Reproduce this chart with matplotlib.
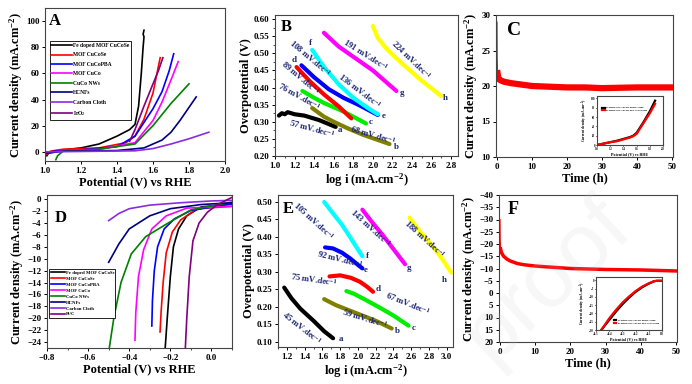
import numpy as np
import matplotlib
matplotlib.use('Agg')
import matplotlib.pyplot as plt

plt.rcParams['font.family'] = ['Liberation Serif', 'DejaVu Serif']
plt.rcParams['font.weight'] = 'bold'
plt.rcParams['axes.labelweight'] = 'bold'
plt.rcParams['mathtext.fontset'] = 'custom'
plt.rcParams['mathtext.rm'] = 'Liberation Serif:bold'
plt.rcParams['mathtext.it'] = 'Liberation Serif:bold'
plt.rcParams['mathtext.bf'] = 'Liberation Serif:bold'
plt.rcParams['mathtext.default'] = 'rm'

# ---------------- data ----------------
# A: OER polarisation curves (potential V, current mA/cm2)
oer_names = ['Fe doped MOF CuCoSe', 'MOF CuCoSe', 'MOF CuCoPBA', 'MOF CuCo',
             'CuCo NWs', 'HCNFs', 'Carbon Cloth', 'IrO$_2$']
oer_colors = ['black', 'red', 'blue', 'magenta', 'green', 'navy', '#8a2be2', 'purple']
oer_x = [
    [1.01, 1.02, 1.05, 1.1, 1.2, 1.3, 1.4, 1.47, 1.5, 1.52, 1.535, 1.545, 1.55, 1.545, 1.55],
    [1.01, 1.03, 1.1, 1.3, 1.45, 1.5, 1.55, 1.6, 1.625, 1.64],
    [1.01, 1.05, 1.2, 1.4, 1.5, 1.6, 1.65, 1.69, 1.715],
    [1.02, 1.1, 1.3, 1.5, 1.6, 1.65, 1.7, 1.74],
    [1.06, 1.07, 1.1, 1.3, 1.5, 1.6, 1.7, 1.8],
    [1.01, 1.1, 1.4, 1.55, 1.65, 1.7, 1.75, 1.8, 1.84],
    [1.01, 1.2, 1.5, 1.6, 1.7, 1.8, 1.91],
    [1.47, 1.5, 1.55, 1.6, 1.63, 1.655],
]
oer_y = [
    [-3, -1, 0.5, 1.5, 3, 6, 12, 17, 21, 35, 60, 80, 88, 90, 93],
    [-2, 0.5, 2, 3, 7, 12, 25, 45, 62, 72],
    [-1, 0.5, 1.5, 4, 12, 33, 46, 62, 75],
    [-1, 1, 2, 7, 24, 38, 55, 69],
    [-6, -3, 0.5, 2, 6, 20, 37, 52],
    [-1, 0.5, 1, 3, 9, 15, 24, 34, 42],
    [0, 0.3, 0.8, 2.5, 6, 10, 15],
    [8, 17, 35, 52, 62, 72],
]

# B: OER Tafel plots (log i, overpotential V)
tafel1_x = [
    [1.04, 1.07, 1.1, 1.13, 1.2, 1.3, 1.45, 1.62],
    [1.38, 1.5, 1.6, 1.75, 1.9, 2.05, 2.17],
    [1.28, 1.4, 1.5, 1.7, 1.93],
    [1.22, 1.35, 1.5, 1.65, 1.78],
    [1.27, 1.4, 1.55, 1.7, 1.85, 2.05],
    [1.38, 1.5, 1.65, 1.8, 1.95, 2.05],
    [1.5, 1.65, 1.8, 2.0, 2.24],
    [2.0, 2.05, 2.15, 2.3, 2.5, 2.7],
]
tafel1_y = [
    [0.318, 0.325, 0.322, 0.328, 0.322, 0.318, 0.305, 0.285],
    [0.34, 0.315, 0.30, 0.28, 0.262, 0.247, 0.235],
    [0.39, 0.37, 0.355, 0.33, 0.295],
    [0.46, 0.42, 0.38, 0.345, 0.31],
    [0.465, 0.43, 0.395, 0.37, 0.35, 0.32],
    [0.51, 0.46, 0.41, 0.37, 0.34, 0.322],
    [0.56, 0.52, 0.49, 0.45, 0.39],
    [0.58, 0.545, 0.51, 0.47, 0.42, 0.375],
]
tafel_colors = ['black', '#808000', '#00ee00', 'red', 'blue', '#00ffff', '#ff00ff', '#ffff00']
tafel1_slopes = ['57', '68', '76', '89', '108', '136', '191', '224']
tafel1_lab_xy = [(1.38, 0.28), (2.0, 0.262), (1.245, 0.373), (1.256, 0.428),
                 (1.36, 0.486), (1.87, 0.39), (1.93, 0.495), (2.39, 0.48)]
tafel1_lab_rot = [-15, -16, -29, -40, -40, -37, -32, -44]
tafel_letters = ['a', 'b', 'c', 'd', 'e', 'f', 'g', 'h']
tafel1_let_xy = [(1.64, 0.276), (2.22, 0.226), (1.96, 0.298), (1.17, 0.48),
                 (2.09, 0.317), (1.35, 0.53), (2.27, 0.384), (2.71, 0.37)]

# C: OER stability (time h, current mA/cm2)
oer_t = [0, 0.05, 0.15, 0.4, 1, 2, 4, 7, 10, 15, 20, 25, 30, 35, 40, 45, 50]
oer_j = [29, 24, 21.8, 21.0, 20.8, 20.6, 20.4, 20.2, 20.0, 19.9, 19.8, 19.8, 19.7, 19.75, 19.8, 19.8, 19.8]
oer_in_x = [1.0, 1.1, 1.2, 1.3, 1.4, 1.5, 1.55, 1.6, 1.7, 1.8, 1.88]
oer_in_before = [0, 3, 6, 9, 13, 17, 20, 26, 48, 72, 95]
oer_in_after = [0, 3, 6, 8, 12, 16, 19, 24, 46, 68, 88]

# D: HER polarisation curves
her_names = ['Fe doped MOF CuCoSe', 'MOF CuCoSe', 'MOF CuCoPBA', 'MOF CuCo',
             'CuCo NWs', 'HCNFs', 'Carbon Cloth', 'Pt/C']
her_colors = ['black', 'red', 'blue', 'magenta', 'green', 'navy', '#8a2be2', 'purple']
her_x = [
    [-0.225, -0.215, -0.2, -0.185, -0.16, -0.12, -0.05, 0.1],
    [-0.25, -0.245, -0.235, -0.22, -0.19, -0.15, -0.07, 0.1],
    [-0.29, -0.287, -0.278, -0.262, -0.23, -0.18, -0.1, 0.1],
    [-0.372, -0.368, -0.355, -0.33, -0.29, -0.22, -0.12, 0.1],
    [-0.497, -0.475, -0.44, -0.39, -0.32, -0.22, -0.1, 0.1],
    [-0.5, -0.45, -0.4, -0.3, -0.2, -0.05, 0.1],
    [-0.5, -0.45, -0.4, -0.3, -0.15, 0.0, 0.1],
    [-0.127, -0.12, -0.108, -0.09, -0.06, -0.02, 0.03, 0.1],
]
her_y = [
    [-25, -20, -13, -8, -5, -2.8, -1.3, -0.8],
    [-22.3, -19, -14, -9, -5.5, -3.5, -1.6, -1.2],
    [-21.3, -17, -12, -8, -5, -3.3, -1.9, -0.8],
    [-23.7, -19, -13, -8.5, -5, -2.8, -1.5, -1.2],
    [-25, -20, -14, -9.2, -6.3, -4.2, -1.8, -0.5],
    [-10.6, -7.5, -5, -2.8, -1.6, -0.9, -0.6],
    [-3.6, -2.4, -1.6, -1.0, -0.6, -0.3, -0.2],
    [-25, -20, -13, -7, -4, -2.2, -0.9, 0.3],
]

# E: HER Tafel plots
tafel2_x = [
    [1.17, 1.25, 1.35, 1.5, 1.62, 1.72],
    [1.62, 1.75, 1.9, 2.05, 2.2, 2.38],
    [1.87, 1.95, 2.1, 2.25, 2.4, 2.57],
    [1.68, 1.8, 1.92, 2.02, 2.1, 2.17],
    [1.63, 1.72, 1.82, 1.92, 2.0, 2.05],
    [1.62, 1.72, 1.82, 1.91, 1.98, 2.05],
    [2.05, 2.15, 2.28, 2.4, 2.53],
    [2.58, 2.7, 2.82, 2.94, 3.05],
]
tafel2_y = [
    [0.255, 0.225, 0.195, 0.16, 0.13, 0.11],
    [0.222, 0.205, 0.19, 0.175, 0.16, 0.138],
    [0.245, 0.238, 0.218, 0.197, 0.175, 0.146],
    [0.287, 0.29, 0.283, 0.272, 0.258, 0.243],
    [0.37, 0.367, 0.355, 0.337, 0.32, 0.31],
    [0.50, 0.467, 0.435, 0.40, 0.372, 0.345],
    [0.478, 0.445, 0.405, 0.365, 0.322],
    [0.455, 0.415, 0.38, 0.34, 0.298],
]
tafel2_slopes = ['45', '59', '67', '75', '92', '105', '143', '188']
tafel2_lab_xy = [(1.37, 0.14), (2.08, 0.166), (2.56, 0.208), (1.5, 0.277),
                 (1.8, 0.336), (1.5, 0.445), (2.14, 0.425), (2.75, 0.395)]
tafel2_lab_rot = [-38, -17, -22, -8, -14, -42, -42, -42]
tafel2_let_xy = [(1.78, 0.108), (2.42, 0.132), (2.61, 0.14), (2.2, 0.25),
                 (2.07, 0.304), (2.09, 0.345), (2.55, 0.312), (2.94, 0.278)]

# F: HER stability
her_t = [0, 0.05, 0.15, 0.4, 1, 2, 3, 5, 7, 10, 15, 20, 25, 30, 35, 40, 45, 50]
her_j = [-30, -22, -18, -16.5, -15, -13.8, -13, -12, -11.5, -11, -10.5, -10, -9.8, -9.6, -9.5, -9.4, -9.2, -9.0]
her_in_x = [-0.46, -0.43, -0.4, -0.35, -0.3, -0.25, -0.2, -0.15, -0.1, -0.06, -0.04, 0.0]
her_in_before = [-30, -27, -24, -19, -14.5, -10.5, -7, -4.2, -2, -0.6, -0.3, -0.3]
her_in_after = [-30, -26.5, -23, -18, -13.5, -9.8, -6.5, -3.8, -1.8, -0.5, -0.3, -0.3]

# ---------------- figure ----------------
W, H = 692, 384
fig = plt.figure(figsize=(W / 100, H / 100), dpi=100)


def px(l, t, r, b):
    return [l / W, 1 - b / H, (r - l) / W, (b - t) / H]


def style(ax, fs=6.5):
    ax.tick_params(direction='out', labelsize=fs, length=2.5, width=0.7, pad=1.5,
                   top=False, right=False)
    ax.tick_params(which='minor', direction='out', length=1.5, width=0.5,
                   top=False, right=False)
    for s in ax.spines.values():
        s.set_linewidth(0.8)
        s.set_color('#444444')
    for lab in ax.get_xticklabels() + ax.get_yticklabels():
        lab.set_fontweight('bold')


jlab = 'Current density (mA.cm$^{-2}$)'
navy_txt = '#1c2574'

# A
axA = fig.add_axes(px(45, 8, 225, 161))
for x, y, c, n in zip(oer_x, oer_y, oer_colors, oer_names):
    axA.plot(x, y, color=c, lw=1.2, label=n)
axA.set_xlim(1.0, 2.0)
axA.set_ylim(-7, 110)
axA.set_xticks([1.0, 1.2, 1.4, 1.6, 1.8, 2.0])
axA.set_yticks([0, 20, 40, 60, 80, 100])
axA.set_xlabel('Potential (V) vs RHE', fontsize=9, labelpad=1)
axA.set_ylabel(jlab, fontsize=9, labelpad=1)
axA.text(0.02, 0.97, 'A', transform=axA.transAxes, fontsize=12, fontweight='bold', va='top')
axA.legend(loc='upper left', bbox_to_anchor=(0.01, 0.8), fontsize=4.0, frameon=True,
           fancybox=False, edgecolor='black', handlelength=3.8, handletextpad=0.2,
           labelspacing=0.8, borderpad=0.3, framealpha=1).get_frame().set_linewidth(0.6)
style(axA)

# B
axB = fig.add_axes(px(275, 15, 458, 156))
for x, y, c in zip(tafel1_x, tafel1_y, tafel_colors):
    axB.plot(x, y, color=c, lw=3, solid_capstyle='round')
for s, xy, r in zip(tafel1_slopes, tafel1_lab_xy, tafel1_lab_rot):
    axB.text(xy[0], xy[1], s + ' mV.dec$^{-1}$', rotation=r, fontsize=6.2, color=navy_txt,
             ha='center', va='center', rotation_mode='anchor')
for l, xy in zip(tafel_letters, tafel1_let_xy):
    axB.text(xy[0], xy[1], l, fontsize=6.5, color=navy_txt, ha='left', va='center')
axB.set_xlim(1.0, 2.87)
axB.set_ylim(0.2, 0.612)
axB.set_xticks(np.arange(1.0, 2.81, 0.2))
axB.set_xticks(np.arange(1.0, 2.86, 0.1), minor=True)
axB.set_yticks(np.arange(0.2, 0.601, 0.05))
axB.set_yticks(np.arange(0.2, 0.61, 0.025), minor=True)
axB.set_xticklabels(['%.1f' % v for v in np.arange(1.0, 2.81, 0.2)])
axB.set_yticklabels(['%.2f' % v for v in np.arange(0.2, 0.601, 0.05)])
axB.set_xlabel('log i (mA.cm$^{-2}$)', fontsize=9, labelpad=1)
axB.set_ylabel('Overpotential (V)', fontsize=9, labelpad=1)
axB.text(0.03, 0.97, 'B', transform=axB.transAxes, fontsize=12, fontweight='bold', va='top')
style(axB)

# C
axC = fig.add_axes(px(496, 15, 673, 157))
axC.plot(oer_t[:3], oer_j[:3], color='red', lw=0.8)
axC.plot(oer_t[2:], oer_j[2:], color='red', lw=4.5)
axC.set_xlim(-0.3, 50.3)
axC.set_ylim(10, 30)
axC.set_xticks([0, 10, 20, 30, 40, 50])
axC.set_yticks([10, 15, 20, 25, 30])
axC.set_xlabel('Time (h)', fontsize=9, labelpad=1)
axC.set_ylabel(jlab, fontsize=9, labelpad=1)
axC.text(0.06, 0.95, 'C', transform=axC.transAxes, fontsize=14, fontweight='bold', va='top')
style(axC)

insC = fig.add_axes(px(597, 96, 663, 145))
insC.plot(oer_in_x, oer_in_before, color='black', lw=1.6, label='Fe doped MOF CuCoSe before cycling')
insC.plot(oer_in_x, oer_in_after, color='red', lw=1.6, label='Fe doped MOF CuCoSe after 1000 cycling')
insC.set_xlim(1.0, 2.0)
insC.set_ylim(0, 105)
insC.set_xticks([1.0, 1.2, 1.4, 1.6, 1.8, 2.0])
insC.set_yticks([0, 20, 40, 60, 80, 100])
insC.set_xlabel('Potential (V) vs RHE', fontsize=3, labelpad=0.5)
insC.set_ylabel('Current density (mA.cm$^{-2}$)', fontsize=2.6, labelpad=0.5)
insC.legend(loc='upper left', bbox_to_anchor=(0.05, 0.82), fontsize=1.6, frameon=False,
            handlelength=1)
style(insC, fs=2.2)
insC.tick_params(length=1, pad=0.5)

# D
axD = fig.add_axes(px(47, 195, 232, 348))
for x, y, c, n in zip(her_x, her_y, her_colors, her_names):
    axD.plot(x, y, color=c, lw=1.2, label=n)
axD.set_xlim(-0.8, 0.1)
axD.set_ylim(-25, 0.7)
axD.set_xticks([-0.8, -0.6, -0.4, -0.2, 0.0])
axD.set_xticks(np.arange(-0.8, 0.11, 0.1), minor=True)
axD.set_yticks(np.arange(-24, 1, 2))
axD.set_xlabel('Potential (V) vs RHE', fontsize=9, labelpad=1)
axD.set_ylabel(jlab, fontsize=9, labelpad=1)
axD.text(0.04, 0.9, 'D', transform=axD.transAxes, fontsize=12, fontweight='bold', va='top')
axD.legend(loc='upper left', bbox_to_anchor=(0.0, 0.53), fontsize=3.4, frameon=True,
           fancybox=False, edgecolor='black', handlelength=3.0, handletextpad=0.2,
           labelspacing=0.35, borderpad=0.25, framealpha=1).get_frame().set_linewidth(0.6)
style(axD)

# E
axE = fig.add_axes(px(278, 195, 453, 347))
for x, y, c in zip(tafel2_x, tafel2_y, tafel_colors):
    axE.plot(x, y, color=c, lw=3, solid_capstyle='round')
for s, xy, r in zip(tafel2_slopes, tafel2_lab_xy, tafel2_lab_rot):
    axE.text(xy[0], xy[1], s + ' mV.dec$^{-1}$', rotation=r, fontsize=6.2, color=navy_txt,
             ha='center', va='center', rotation_mode='anchor')
for l, xy in zip(tafel_letters, tafel2_let_xy):
    axE.text(xy[0], xy[1], l, fontsize=6.5, color=navy_txt, ha='left', va='center')
axE.set_xlim(1.1, 3.07)
axE.set_ylim(0.085, 0.52)
axE.set_xticks(np.arange(1.2, 3.01, 0.2))
axE.set_xticks(np.arange(1.1, 3.06, 0.1), minor=True)
axE.set_xticklabels(['%.1f' % v for v in np.arange(1.2, 3.01, 0.2)])
axE.set_yticks(np.arange(0.10, 0.501, 0.05))
axE.set_yticklabels(['%.2f' % v for v in np.arange(0.10, 0.501, 0.05)])
axE.set_xlabel('log i (mA.cm$^{-2}$)', fontsize=9, labelpad=1)
axE.set_ylabel('Overpotential (V)', fontsize=9, labelpad=1)
axE.text(0.03, 0.96, 'E', transform=axE.transAxes, fontsize=12, fontweight='bold', va='top')
style(axE)

# F
axF = fig.add_axes(px(499, 195, 677, 342))
axF.plot(her_t[:3], her_j[:3], color='red', lw=0.8)
axF.plot(her_t[2:], her_j[2:], color='red', lw=2.5)
axF.set_xlim(-0.3, 50.3)
axF.set_ylim(20, -40)
axF.set_xticks([0, 10, 20, 30, 40, 50])
axF.set_yticks(np.arange(-40, 21, 5))
axF.set_xlabel('Time (h)', fontsize=9, labelpad=1)
axF.set_ylabel(jlab, fontsize=9, labelpad=1)
axF.text(0.05, 0.96, 'F', transform=axF.transAxes, fontsize=13, fontweight='bold', va='top')
style(axF)

insF = fig.add_axes(px(596, 277, 662, 330))
insF.plot(her_in_x, her_in_before, color='black', lw=1.6, label='Fe doped MOF CuCoSe before cycling')
insF.plot(her_in_x, her_in_after, color='red', lw=1.6, label='Fe doped MOF CuCoSe after 1000 cycling')
insF.set_xlim(-0.5, 0.0)
insF.set_ylim(-30, 2)
insF.set_xticks([-0.5, -0.4, -0.3, -0.2, -0.1, 0.0])
insF.set_yticks(np.arange(-30, 1, 5))
insF.set_xlabel('Potential (V) vs RHE', fontsize=3, labelpad=0.5)
insF.set_ylabel('Current density (mA.cm$^{-2}$)', fontsize=2.6, labelpad=0.5)
insF.legend(loc='lower right', bbox_to_anchor=(0.98, 0.08), fontsize=1.6, frameon=False,
            handlelength=1)
style(insF, fs=2.2)
insF.tick_params(length=1, pad=0.5)

# faint "proof" watermark
fig.text(0.79, 0.27, 'proof', rotation=43, fontsize=62, color='#c8c8c8', alpha=0.15,
         ha='center', va='center', fontweight='normal', family='Liberation Sans', zorder=10)

fig.savefig('out.png', dpi=100)
